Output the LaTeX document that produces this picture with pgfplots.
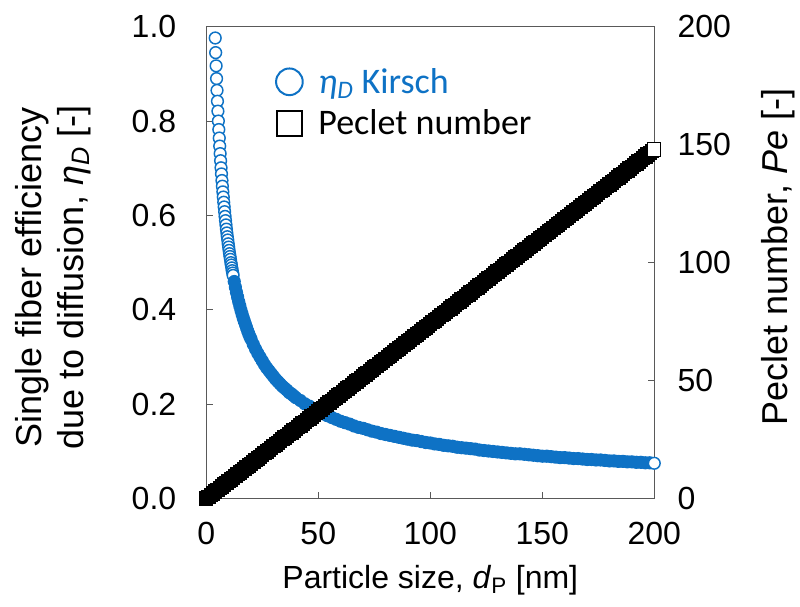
\documentclass[border=0pt]{standalone}
\usepackage{pgfplots}
\pgfplotsset{compat=1.18}
\usepackage{fontspec}
\setmainfont{Liberation Sans}
\newfontfamily\calibri{Carlito}
\definecolor{kblue}{HTML}{0E72C5}
\definecolor{axgray}{HTML}{595959}

\begin{document}
\begin{tikzpicture}
\useasboundingbox (-154.7pt,-81.2pt) rectangle (445.3pt,374pt);

% left axis: eta_D (Kirsch)
\begin{axis}[
    scale only axis, width=336pt, height=354pt,
    xmin=0, xmax=200, ymin=0, ymax=1,
    xtick={0,50,100,150,200}, ytick={0,0.2,0.4,0.6,0.8,1},
    xtick pos=bottom, ytick pos=left,
    tick align=inside, major tick length=5pt,
    tick style={axgray, line width=0.8pt},
    axis line style={axgray, line width=0.8pt},
    clip=false,
    /pgf/number format/assume math mode=true,
    tick label style={font=\fontsize{24pt}{28pt}\selectfont},
    yticklabel style={/pgf/number format/fixed, /pgf/number format/fixed zerofill,
        /pgf/number format/precision=1, xshift=-19pt},
    xticklabel style={yshift=-14pt},
    xlabel={Particle size, \textit{d}\textsubscript{P} [nm]},
    every axis x label/.style={at={(axis description cs:0.5,-0.172)}, anchor=center,
        font=\fontsize{24pt}{28pt}\selectfont},
    ylabel={Single fiber efficiency\\due to diffusion, \textit{η}\textsubscript{\textit{D}} [-]},
    every axis y label/.style={at={(axis description cs:-0.342,0.469)}, rotate=90, anchor=center,
        align=center, font=\fontsize{27pt}{32pt}\selectfont},
    legend style={at={(axis description cs:0.153,0.918)}, anchor=north west, draw=none, fill=none,
        font=\calibri\fontsize{27pt}{31pt}\selectfont, row sep=7pt, inner sep=0pt,
        /tikz/every odd column/.style={column sep=9pt}},
    legend cell align=left,
]

\addplot[only marks, mark=*, mark size=4.4pt,
    mark options={draw=kblue, fill=white, line width=1.1pt},
    legend image code/.code={\draw[kblue, line width=1.5pt, fill=white] (10pt,0pt) circle (10pt);}]
coordinates {
(4.0,0.976) (4.2,0.945) (4.4,0.917) (4.6,0.890) (4.8,0.865) (5.0,0.842) (5.2,0.821) (5.4,0.800)
(5.6,0.782) (5.8,0.764) (6.0,0.747) (6.2,0.731) (6.4,0.716) (6.6,0.701) (6.8,0.688) (7.0,0.674)
(7.2,0.662) (7.4,0.650) (7.6,0.639) (7.8,0.628) (8.0,0.618) (8.2,0.608) (8.4,0.598) (8.6,0.589)
(8.8,0.580) (9.0,0.571) (9.2,0.563) (9.4,0.555) (9.6,0.548) (9.8,0.540) (10.0,0.533)
(10.2,0.526) (10.4,0.519) (10.6,0.513) (10.8,0.507) (11.0,0.500) (11.2,0.495) (11.4,0.489)
(11.6,0.483) (11.8,0.478) (12.0,0.473)
};
\addlegendentry{\textcolor{kblue}{{\itshape η\textsubscript{D}} Kirsch}}

\addplot[only marks, mark=*, mark size=4.4pt, forget plot,
    mark options={draw=kblue, fill=kblue, line width=1.1pt}]
coordinates {
(12.5,0.460) (13,0.448) (13.5,0.437) (14,0.427)
(14.5,0.417) (15,0.408) (15.5,0.399) (16,0.391) (16.5,0.383) (17,0.376) (17.5,0.369) (18,0.362)
(18.5,0.355) (19,0.349) (19.5,0.343) (20,0.338)
(21,0.327) (22,0.317) (23,0.308) (24,0.300) (25,0.292) (26,0.284) (27,0.277) (28,0.271) (29,0.265) (30,0.259)
(31,0.253) (32,0.248) (33,0.243) (34,0.238) (35,0.234) (36,0.230) (37,0.225) (38,0.222) (39,0.218) (40,0.214)
(42,0.208) (44,0.201) (46,0.196) (48,0.190) (50,0.185) (52,0.180) (54,0.176) (56,0.172) (58,0.168) (60,0.164)
(62,0.161) (64,0.158) (66,0.154) (68,0.151) (70,0.149) (72,0.146) (74,0.143) (76,0.141) (78,0.138) (80,0.136)
(82,0.134) (84,0.132) (86,0.130) (88,0.128) (90,0.126) (92,0.124) (94,0.123) (96,0.121) (98,0.119) (100,0.118)
(102,0.116) (104,0.115) (106,0.113) (108,0.112) (110,0.111) (112,0.109) (114,0.108) (116,0.107) (118,0.106) (120,0.105)
(122,0.103) (124,0.102) (126,0.101) (128,0.100) (130,0.099) (132,0.098) (134,0.097) (136,0.096) (138,0.095) (140,0.095)
(142,0.094) (144,0.093) (146,0.092) (148,0.091) (150,0.090) (152,0.090) (154,0.089) (156,0.088) (158,0.087) (160,0.087)
(162,0.086) (164,0.085) (166,0.085) (168,0.084) (170,0.083) (172,0.083) (174,0.082) (176,0.082) (178,0.081) (180,0.080)
(182,0.080) (184,0.079) (186,0.079) (188,0.078) (190,0.078) (192,0.077) (194,0.077) (196,0.076) (198,0.076)
};

% last point is drawn open
\addplot[only marks, mark=*, mark size=4.4pt, forget plot,
    mark options={draw=kblue, fill=white, line width=1.1pt}]
coordinates {(200,0.075)};

\addlegendimage{legend image code/.code={\draw[black, line width=1.4pt, fill=white] (0.5pt,-9.5pt) rectangle (19.5pt,9.5pt);}}
\addlegendentry{Peclet number}
\end{axis}

% right axis: Peclet number
\begin{axis}[
    scale only axis, width=336pt, height=354pt,
    xmin=0, xmax=200, ymin=0, ymax=200,
    hide x axis,
    axis line style={draw=none},
    ytick={0,50,100,150,200},
    ytick pos=right, yticklabel pos=right,
    tick align=inside, major tick length=5pt,
    tick style={axgray, line width=0.8pt},
    clip=false,
    /pgf/number format/assume math mode=true,
    tick label style={font=\fontsize{24pt}{28pt}\selectfont},
    yticklabel style={xshift=14pt},
    ylabel={Peclet number, \textit{Pe} [-]},
    every axis y label/.style={at={(axis description cs:1.276,0.512)}, rotate=90, anchor=center,
        font=\fontsize{27pt}{32pt}\selectfont},
]
\addplot[only marks, mark=square*, mark size=5pt,
    mark options={draw=black, fill=black, line width=0.8pt}]
coordinates {
(0,0) (1,0.74) (2,1.48) (3,2.22) (4,2.96) (5,3.70) (6,4.44) (7,5.18) (8,5.92) (9,6.66)
(10,7.40) (11,8.14) (12,8.88) (13,9.62) (14,10.36) (15,11.10) (16,11.84) (17,12.58) (18,13.32) (19,14.06)
(20,14.80) (21,15.54) (22,16.28) (23,17.02) (24,17.76) (25,18.50) (26,19.24) (27,19.98) (28,20.72) (29,21.46)
(30,22.20) (31,22.94) (32,23.68) (33,24.42) (34,25.16) (35,25.90) (36,26.64) (37,27.38) (38,28.12) (39,28.86)
(40,29.60) (41,30.34) (42,31.08) (43,31.82) (44,32.56) (45,33.30) (46,34.04) (47,34.78) (48,35.52) (49,36.26)
(50,37.00) (51,37.74) (52,38.48) (53,39.22) (54,39.96) (55,40.70) (56,41.44) (57,42.18) (58,42.92) (59,43.66)
(60,44.40) (61,45.14) (62,45.88) (63,46.62) (64,47.36) (65,48.10) (66,48.84) (67,49.58) (68,50.32) (69,51.06)
(70,51.80) (71,52.54) (72,53.28) (73,54.02) (74,54.76) (75,55.50) (76,56.24) (77,56.98) (78,57.72) (79,58.46)
(80,59.20) (81,59.94) (82,60.68) (83,61.42) (84,62.16) (85,62.90) (86,63.64) (87,64.38) (88,65.12) (89,65.86)
(90,66.60) (91,67.34) (92,68.08) (93,68.82) (94,69.56) (95,70.30) (96,71.04) (97,71.78) (98,72.52) (99,73.26)
(100,74.00) (101,74.74) (102,75.48) (103,76.22) (104,76.96) (105,77.70) (106,78.44) (107,79.18) (108,79.92) (109,80.66)
(110,81.40) (111,82.14) (112,82.88) (113,83.62) (114,84.36) (115,85.10) (116,85.84) (117,86.58) (118,87.32) (119,88.06)
(120,88.80) (121,89.54) (122,90.28) (123,91.02) (124,91.76) (125,92.50) (126,93.24) (127,93.98) (128,94.72) (129,95.46)
(130,96.20) (131,96.94) (132,97.68) (133,98.42) (134,99.16) (135,99.90) (136,100.64) (137,101.38) (138,102.12) (139,102.86)
(140,103.60) (141,104.34) (142,105.08) (143,105.82) (144,106.56) (145,107.30) (146,108.04) (147,108.78) (148,109.52) (149,110.26)
(150,111.00) (151,111.74) (152,112.48) (153,113.22) (154,113.96) (155,114.70) (156,115.44) (157,116.18) (158,116.92) (159,117.66)
(160,118.40) (161,119.14) (162,119.88) (163,120.62) (164,121.36) (165,122.10) (166,122.84) (167,123.58) (168,124.32) (169,125.06)
(170,125.80) (171,126.54) (172,127.28) (173,128.02) (174,128.76) (175,129.50) (176,130.24) (177,130.98) (178,131.72) (179,132.46)
(180,133.20) (181,133.94) (182,134.68) (183,135.42) (184,136.16) (185,136.90) (186,137.64) (187,138.38) (188,139.12) (189,139.86)
(190,140.60) (191,141.34) (192,142.08) (193,142.82) (194,143.56) (195,144.30) (196,145.04) (197,145.78) (198,146.52) (199,147.26)
};
\addplot[only marks, mark=square*, mark size=5pt,
    mark options={draw=black, fill=white, line width=0.8pt}]
coordinates {(200,148.00)};
\end{axis}
\end{tikzpicture}
\end{document}
